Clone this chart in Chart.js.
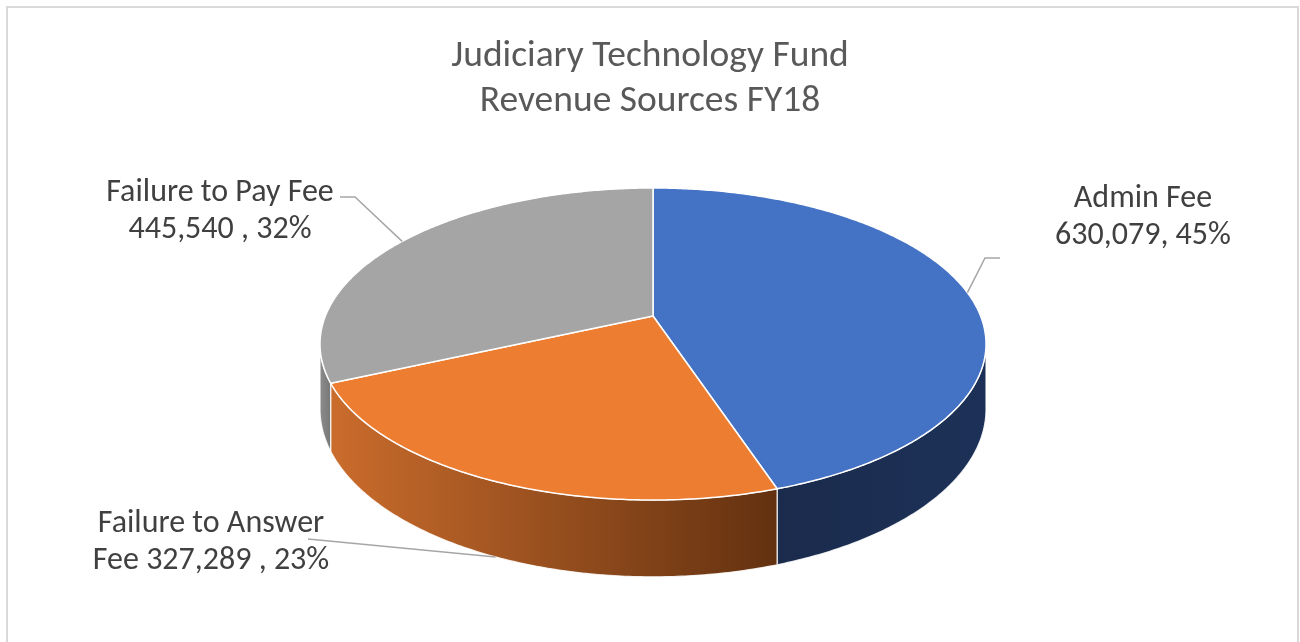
<!DOCTYPE html>
<html>
<head>
<meta charset="utf-8">
<script src="https://cdn.jsdelivr.net/npm/chart.js@4.4.1/dist/chart.umd.min.js"></script>
<style>
    html, body { margin: 0; padding: 0; background: #ffffff; }
    #wrap { width: 1300px; height: 642px; position: relative; }
</style>
</head>
<body>
<div id="wrap"><canvas id="revenueChart"></canvas></div>
<script>
// data
const categories = ['Admin Fee', 'Failure to Answer Fee', 'Failure to Pay Fee'];
const revenue = [630079, 327289, 445540];
const labelLines = [
    ['Admin Fee', '630,079, 45%'],
    ['Failure to Answer', 'Fee 327,289 , 23%'],
    ['Failure to Pay Fee', '445,540 , 32%']
];
const titleLines = ['Judiciary Technology Fund', 'Revenue Sources FY18'];

const FONT = "Carlito, Lato, 'Liberation Sans', sans-serif";

const topColors = ['#4472C4', '#ED7D31', '#A5A5A5'];
const wallColors = [
    ['#1A2B4C', '#1D3158'],
    ['#CA6C2C', '#633110'],
    ['#8C8C8C', '#787878']
];

// 3d projection of the pie disc (perspective tilt)
const view = {
    cx: 653,
    cy: 316,
    rx: 327.6,
    ry: 151,
    depth: 63,
    persp: 0.1795
};

// label boxes + leader lines
const labelLayout = [
    { x: 1143, y: 207, knee: [985, 258], end: [1000, 258], drop: false },
    { x: 211, y: 532, knee: null, end: [308, 539], drop: true },
    { x: 220, y: 201, knee: [355, 197], end: [340, 197], drop: false }
];

function project(phi, drop) {
    const w = 1 + view.persp * Math.cos(phi);
    return {
        x: view.cx + view.rx * Math.sin(phi) / w,
        y: view.cy + (-view.ry * Math.cos(phi) + (drop ? view.depth : 0)) / w
    };
}

function sampleAngles(a0, a1) {
    const steps = Math.max(2, Math.ceil((a1 - a0) / 0.01));
    const out = [];
    for (let i = 0; i <= steps; i++) out.push(a0 + (a1 - a0) * i / steps);
    return out;
}

// visible part of the outer wall
const wallFrom = Math.acos(-view.persp);
const wallTo = Math.PI * 2 - wallFrom;

const pie3d = {
    id: 'pie3d',
    beforeDatasetsDraw(chart) {
        const ctx = chart.ctx;
        const arcs = chart.getDatasetMeta(0).data;

        ctx.save();
        // side walls
        arcs.forEach((arc, i) => {
            const s = Math.max(arc.startAngle + Math.PI / 2, wallFrom);
            const e = Math.min(arc.endAngle + Math.PI / 2, wallTo);
            if (e <= s) return;
            const angles = sampleAngles(s, e);
            const top = angles.map(a => project(a, false));
            const bottom = angles.map(a => project(a, true)).reverse();
            const xs = top.map(p => p.x);
            const grad = ctx.createLinearGradient(Math.min(...xs), 0, Math.max(...xs), 0);
            grad.addColorStop(0, wallColors[i][0]);
            grad.addColorStop(1, wallColors[i][1]);

            ctx.beginPath();
            top.concat(bottom).forEach((p, k) => (k ? ctx.lineTo(p.x, p.y) : ctx.moveTo(p.x, p.y)));
            ctx.closePath();
            ctx.fillStyle = grad;
            ctx.fill();
            ctx.strokeStyle = 'rgba(255,255,255,0.85)';
            ctx.lineWidth = 1.2;
            ctx.stroke();
        });

        // top faces
        arcs.forEach((arc, i) => {
            const angles = sampleAngles(arc.startAngle + Math.PI / 2, arc.endAngle + Math.PI / 2);
            ctx.beginPath();
            ctx.moveTo(view.cx, view.cy);
            angles.forEach(a => {
                const p = project(a, false);
                ctx.lineTo(p.x, p.y);
            });
            ctx.closePath();
            ctx.fillStyle = topColors[i];
            ctx.fill();
            ctx.strokeStyle = '#ffffff';
            ctx.lineWidth = 1.5;
            ctx.lineJoin = 'round';
            ctx.stroke();
        });
        ctx.restore();
        return false;
    },
    afterDraw(chart) {
        const ctx = chart.ctx;
        const arcs = chart.getDatasetMeta(0).data;

        ctx.save();
        // chart frame
        ctx.strokeStyle = '#D9D9D9';
        ctx.lineWidth = 2;
        ctx.strokeRect(7, 7, 1291, 700);

        arcs.forEach((arc, i) => {
            const lay = labelLayout[i];
            const mid = (arc.startAngle + arc.endAngle) / 2 + Math.PI / 2;
            const anchor = project(mid, lay.drop);

            ctx.beginPath();
            ctx.moveTo(anchor.x, anchor.y);
            if (lay.knee) ctx.lineTo(lay.knee[0], lay.knee[1]);
            ctx.lineTo(lay.end[0], lay.end[1]);
            ctx.strokeStyle = '#A6A6A6';
            ctx.lineWidth = 1.5;
            ctx.stroke();

            ctx.fillStyle = '#404040';
            ctx.font = `32px ${FONT}`;
            ctx.textAlign = 'center';
            ctx.textBaseline = 'alphabetic';
            labelLines[i].forEach((line, k) => ctx.fillText(line, lay.x, lay.y + k * 37));
        });
        ctx.restore();
    }
};

new Chart(document.getElementById('revenueChart'), {
    type: 'pie',
    data: {
        labels: categories,
        datasets: [{
            data: revenue,
            backgroundColor: topColors
        }]
    },
    options: {
        responsive: true,
        maintainAspectRatio: false,
        animation: false,
        events: [],
        plugins: {
            legend: { display: false },
            tooltip: { enabled: false },
            title: {
                display: true,
                text: titleLines,
                color: '#595959',
                font: { family: FONT, size: 37.5, weight: 'normal', lineHeight: 1.2 },
                padding: { top: 34, bottom: 10 }
            }
        }
    },
    plugins: [pie3d]
});
</script>
</body>
</html>
